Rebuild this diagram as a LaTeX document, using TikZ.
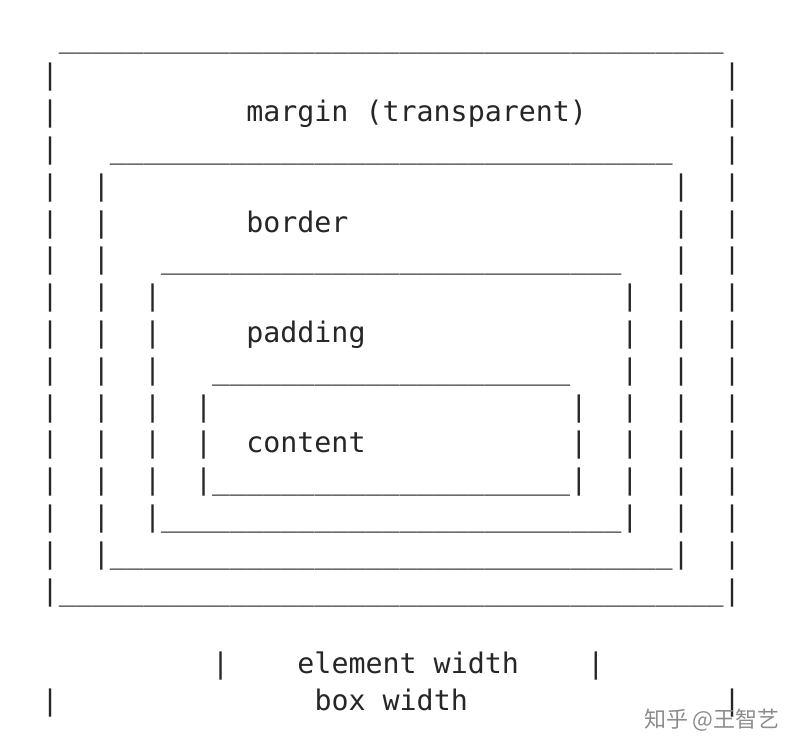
\documentclass[tikz,border=0pt]{standalone}
\usepackage{fontspec}
\setmonofont{DejaVu Sans Mono}
\newfontfamily\cjk{Noto Sans CJK SC}
\begin{document}
\begin{tikzpicture}[x=1pt,y=1pt,
  txt/.style={inner sep=0pt,anchor=base west,text=black!85,font=\ttfamily\fontsize{28.3}{34}\selectfont}]
\useasboundingbox (0,0) rectangle (800,-754);
\newcommand\putch[3]{\node[txt] at ({41.5+#1*17.05},{-(#2*36.8+36)-12}) {#3};}
% underscore runs
\foreach \c in {1,...,39} {\putch{\c}{0}{\_}\putch{\c}{15}{\_}}
\foreach \c in {4,...,36} {\putch{\c}{3}{\_}\putch{\c}{14}{\_}}
\foreach \c in {7,...,33} {\putch{\c}{6}{\_}\putch{\c}{13}{\_}}
\foreach \c in {10,...,30} {\putch{\c}{9}{\_}\putch{\c}{12}{\_}}
% bars
\foreach \r in {1,...,15} {\putch{0}{\r}{|}\putch{40}{\r}{|}}
\foreach \r in {4,...,14} {\putch{3}{\r}{|}\putch{37}{\r}{|}}
\foreach \r in {7,...,13} {\putch{6}{\r}{|}\putch{34}{\r}{|}}
\foreach \r in {10,...,12} {\putch{9}{\r}{|}\putch{31}{\r}{|}}
% labels
\node[txt] (margin) at ({41.5+12*17.05},{-(2*36.8+36)-12}) {margin (transparent)};
\node[txt] (border) at ({41.5+12*17.05},{-(5*36.8+36)-12}) {border};
\node[txt] (padding) at ({41.5+12*17.05},{-(8*36.8+36)-12}) {padding};
\node[txt] (content) at ({41.5+12*17.05},{-(11*36.8+36)-12}) {content};
\putch{10}{17}{|}\putch{32}{17}{|}
\node[txt] (ew) at ({41.5+15*17.05},{-(17*36.8+36)-12}) {element width};
\putch{0}{18}{|}\putch{40}{18}{|}
\node[txt] (bw) at ({41.5+16*17.05},{-(18*36.8+36)-12}) {box width};
\node[inner sep=0pt,anchor=east,text=black!45,font=\cjk\fontsize{22}{26}\selectfont] (wm) at (780,-720) {知乎 @王智艺};
\end{tikzpicture}
\end{document}
